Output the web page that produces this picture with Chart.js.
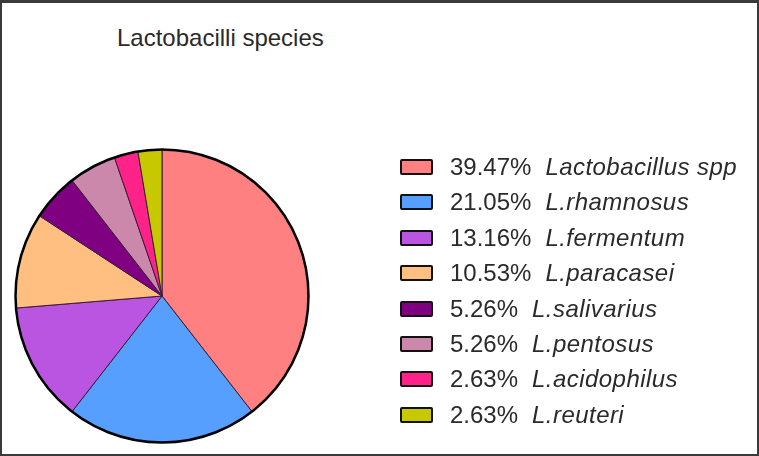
<!DOCTYPE html>
<html>
<head>
<meta charset="utf-8">
<script src="https://cdn.jsdelivr.net/npm/chart.js@4.4.1/dist/chart.umd.min.js"></script>
<style>
  body { margin: 0; background: #fff; font-family: "Liberation Sans", Arial, sans-serif; }
  #frame { position: relative; width: 759px; height: 456px; box-sizing: border-box;
           border: 2px solid #3a3a3a; border-top-width: 3px; overflow: hidden; }
  #title { position: absolute; left: 115px; top: 21px; font-size: 24px; color: #2a2a2a; white-space: nowrap; }
  #pie-box { position: absolute; left: 0; top: 0; width: 755px; height: 451px; }
  #legend { position: absolute; left: 398px; top: 0; }
  .row { position: absolute; left: 0; height: 28px; white-space: nowrap; font-size: 24px; color: #2a2a2a; }
  .swatch { position: absolute; left: 0; top: 6px; width: 29px; height: 12px; border: 2px solid #111; border-radius: 2px; }
  .pct { position: absolute; left: 50px; top: 0; }
  .name { font-style: italic; margin-left: 14px; letter-spacing: 0.45px; }
</style>
</head>
<body>
<div id="frame">
  <div id="title">Lactobacilli species</div>
  <div id="pie-box"><canvas id="pie-chart"></canvas></div>
  <div id="legend"></div>
</div>
<script>
// 종 이름, 비율(%), 색상
const species = ['Lactobacillus spp', 'L.rhamnosus', 'L.fermentum', 'L.paracasei',
                 'L.salivarius', 'L.pentosus', 'L.acidophilus', 'L.reuteri'];
const percents = [39.47, 21.05, 13.16, 10.53, 5.26, 5.26, 2.63, 2.63];
const colors = ['#ff8080', '#579fff', '#b955e0', '#ffbf80', '#7f0080', '#cc88aa', '#ff2288', '#c8c800'];

// 바깥 테두리를 굵은 검은 원으로 그리는 플러그인
const outerRing = {
  id: 'outerRing',
  afterDatasetsDraw(chart) {
    const arc = chart.getDatasetMeta(0).data[0];
    if (!arc) return;
    const ctx = chart.ctx;
    ctx.save();
    ctx.beginPath();
    ctx.arc(arc.x, arc.y, arc.outerRadius, 0, Math.PI * 2);
    ctx.lineWidth = 2.5;
    ctx.strokeStyle = '#000';
    ctx.stroke();
    ctx.restore();
  }
};

const config = {
  type: 'pie',
  data: {
    labels: species,
    datasets: [{
      data: percents,
      backgroundColor: colors,
      borderColor: '#3a1a3a',
      borderWidth: 1
    }]
  },
  options: {
    responsive: true,
    maintainAspectRatio: false,
    animation: false,
    layout: { padding: { left: 13, top: 145, right: 448, bottom: 10 } },
    plugins: { legend: { display: false }, tooltip: { enabled: false } }
  },
  plugins: [outerRing]
};

new Chart(document.getElementById('pie-chart'), config);

// 범례 (HTML)
const legend = document.getElementById('legend');
species.forEach(function(name, i) {
  const row = document.createElement('div');
  row.className = 'row';
  row.style.top = (150 + i * 35.4) + 'px';
  row.innerHTML = '<div class="swatch" style="background:' + colors[i] + '"></div>' +
    '<div class="pct">' + percents[i].toFixed(2) + '%<span class="name">' + name + '</span></div>';
  legend.appendChild(row);
});
</script>
</body>
</html>
